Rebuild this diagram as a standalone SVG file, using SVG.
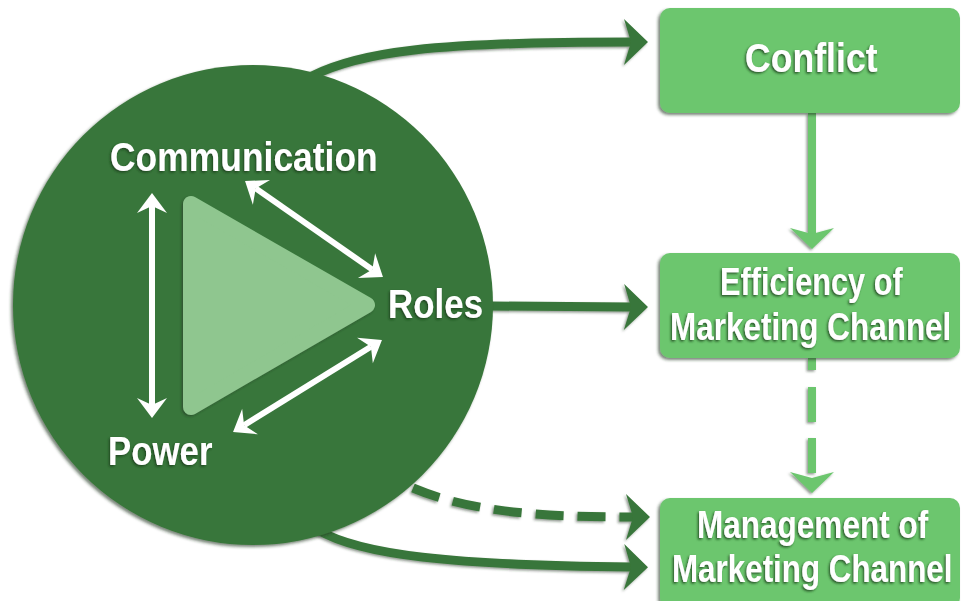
<svg xmlns="http://www.w3.org/2000/svg" width="961" height="601" viewBox="0 0 961 601">
<defs>
<style>
.t{font-family:"Liberation Sans",Arial,sans-serif;font-weight:bold;fill:#fff;filter:url(#ts)}
.dk{fill:none;stroke:#39763a;stroke-width:9}
.lt{fill:none;stroke:#6cc66e;stroke-width:8}
.wh{fill:none;stroke:#fff;stroke-width:6}
.box{fill:#6cc66e;filter:url(#bs)}
</style>
<filter id="ts" x="-10%" y="-20%" width="120%" height="140%"><feDropShadow dx="-1.5" dy="1.5" stdDeviation="1" flood-color="#1a3a1a" flood-opacity="0.8"/></filter>
<filter id="bs" x="-10%" y="-10%" width="120%" height="120%"><feDropShadow dx="-2" dy="2" stdDeviation="1.5" flood-color="#203020" flood-opacity="0.6"/></filter>
<filter id="ls" x="-10%" y="-10%" width="120%" height="120%"><feDropShadow dx="-1.5" dy="1.5" stdDeviation="1" flood-color="#203020" flood-opacity="0.5"/></filter>
<marker id="ad" viewBox="-30 -30 60 60" markerWidth="60" markerHeight="60" refX="0" refY="0" orient="auto" markerUnits="userSpaceOnUse"><path d="M-8,-23 L16,0 L-8,23 L-1,0 Z" fill="#39763a"/></marker>
<marker id="al" viewBox="-30 -30 60 60" markerWidth="60" markerHeight="60" refX="0" refY="0" orient="auto" markerUnits="userSpaceOnUse"><path d="M-8,-22 L13,0 L-8,22 L-2,0 Z" fill="#6cc66e"/></marker>
<marker id="aw" viewBox="-20 -20 40 40" markerWidth="40" markerHeight="40" refX="0" refY="0" orient="auto-start-reverse" markerUnits="userSpaceOnUse"><path d="M-7,-15 L13,0 L-7,15 L0,0 Z" fill="#fff"/></marker>
</defs>
<rect width="961" height="601" fill="#fff"/>
<g id="connectors" filter="url(#ls)">
<path class="dk" d="M312,76 C360,52 430,42 632,42" marker-end="url(#ad)"/>
<path class="dk" d="M490,306 L632,307" marker-end="url(#ad)"/>
<path class="dk" d="M413,488 C470,512 540,517 634,517" stroke-dasharray="28 14" marker-end="url(#ad)"/>
<path class="dk" d="M318,530 C360,555 450,565 632,567" marker-end="url(#ad)"/>
<path class="lt" d="M812,113 L812,236" marker-end="url(#al)"/>
<path class="lt" d="M812,358 L812,480" stroke-dasharray="12 17 35 16 35 16" marker-end="url(#al)"/>
</g>
<g id="circle">
<circle cx="253" cy="305" r="240" fill="#39763a" filter="url(#bs)"/>
<path d="M191,204 L191,407 L367,305 Z" fill="#8fc68f" stroke="#8fc68f" stroke-width="16" stroke-linejoin="round" filter="url(#ls)"/>
<g id="white-arrows">
<path class="wh" d="M152,206 L152,405" marker-start="url(#aw)" marker-end="url(#aw)"/>
<path class="wh" d="M255.7,188.4 L372.3,269.6" marker-start="url(#aw)" marker-end="url(#aw)"/>
<path class="wh" d="M370.9,346.8 L244.1,425.2" marker-start="url(#aw)" marker-end="url(#aw)"/>
</g>
<text class="t" transform="translate(110,171) scale(0.85,1)" font-size="40" textLength="315" lengthAdjust="spacingAndGlyphs">Communication</text>
<text class="t" transform="translate(388,318) scale(0.85,1)" font-size="40" textLength="112" lengthAdjust="spacingAndGlyphs">Roles</text>
<text class="t" transform="translate(108,465) scale(0.85,1)" font-size="40" textLength="123" lengthAdjust="spacingAndGlyphs">Power</text>
</g>
<g id="conflict">
<rect class="box" x="660" y="8" width="300" height="105" rx="10"/>
<text class="t" transform="translate(745,72) scale(0.85,1)" font-size="41" textLength="156" lengthAdjust="spacingAndGlyphs">Conflict</text>
</g>
<g id="efficiency">
<rect class="box" x="660" y="253" width="300" height="105" rx="10"/>
<text class="t" transform="translate(720,295) scale(0.85,1)" font-size="38" textLength="215" lengthAdjust="spacingAndGlyphs">Efficiency of</text>
<text class="t" transform="translate(670,340) scale(0.85,1)" font-size="38" textLength="331" lengthAdjust="spacingAndGlyphs">Marketing Channel</text>
</g>
<g id="management">
<rect class="box" x="660" y="498" width="300" height="110" rx="10"/>
<text class="t" transform="translate(697,538) scale(0.85,1)" font-size="38" textLength="272" lengthAdjust="spacingAndGlyphs">Management of</text>
<text class="t" transform="translate(672,582) scale(0.85,1)" font-size="38" textLength="330" lengthAdjust="spacingAndGlyphs">Marketing Channel</text>
</g>
</svg>
